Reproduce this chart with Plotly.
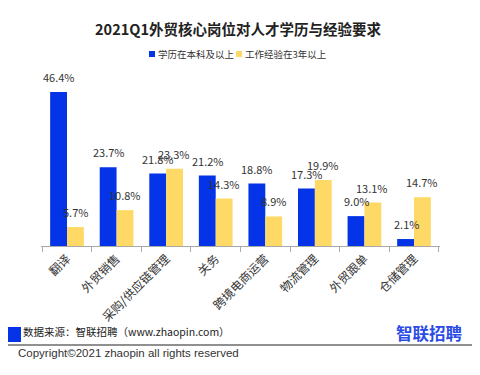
import plotly.graph_objects as go

categories = ["翻译", "外贸销售", "采购/供应链管理", "关务", "跨境电商运营", "物流管理", "外贸跟单", "仓储管理"]
edu_values = [46.4, 23.7, 21.8, 21.2, 18.8, 17.3, 9.0, 2.1]
exp_values = [5.7, 10.8, 23.3, 14.3, 8.9, 19.9, 13.1, 14.7]
series_names = ["学历在本科及以上", "工作经验在3年以上"]

BLUE = "#0433E8"
YELLOW = "#FFD966"
FONT = "Noto Sans CJK SC"

OFF = 8  # page body margin offset
W, H = 480 - OFF, 375 - OFF
# plot area in window pixels: x 41..440, y 80..246
PX0, PX1, PY0, PY1 = 41, 440, 80, 246
L, R, T, B = PX0 - OFF, W - (PX1 - OFF), PY0 - OFF, H - (PY1 - OFF)
PW, PH = PX1 - PX0, PY1 - PY0

def px_x(px):
    return (px - PX0) / PW

def px_y(py):
    return (PY1 - py) / PH

fig = go.Figure()
fig.add_trace(go.Bar(x=categories, y=edu_values, name=series_names[0],
                     marker=dict(color=BLUE, line=dict(width=0))))
fig.add_trace(go.Bar(x=categories, y=exp_values, name=series_names[1],
                     marker=dict(color=YELLOW, line=dict(width=0))))

annotations = []
for cat, v in zip(categories, edu_values):
    annotations.append(dict(x=cat, y=v, xref="x", yref="y", text=f"{v:.1f}%",
                            showarrow=False, xshift=-8, yshift=5, yanchor="bottom",
                            font=dict(size=11, color="#333333", family=FONT)))
for cat, v in zip(categories, exp_values):
    annotations.append(dict(x=cat, y=v, xref="x", yref="y", text=f"{v:.1f}%",
                            showarrow=False, xshift=8, yshift=5, yanchor="bottom",
                            font=dict(size=11, color="#333333", family=FONT)))

# legend drawn as text + small squares
annotations += [
    dict(x=px_x(156), y=px_y(54), xref="paper", yref="paper", xanchor="left", yanchor="middle",
         text=series_names[0], showarrow=False,
         font=dict(size=9.5, color="#333333", family=FONT)),
    dict(x=px_x(243), y=px_y(54), xref="paper", yref="paper", xanchor="left", yanchor="middle",
         text=series_names[1], showarrow=False,
         font=dict(size=9.5, color="#333333", family=FONT)),
]

annotations += [
    dict(x=px_x(21), y=px_y(331), xref="paper", yref="paper", xanchor="left", yanchor="middle",
         text="数据来源：智联招聘（www.zhaopin.com）", showarrow=False,
         font=dict(size=10.5, color="#222222", family=FONT)),
    dict(x=px_x(16), y=px_y(353), xref="paper", yref="paper", xanchor="left", yanchor="middle",
         text="Copyright©2021 zhaopin all rights reserved", showarrow=False,
         font=dict(size=11.5, color="#333333", family="Liberation Sans")),
    dict(x=px_x(464), y=px_y(333), xref="paper", yref="paper", xanchor="right", yanchor="middle",
         text="<b>智联招聘</b>", showarrow=False,
         font=dict(size=16.5, color="#2B4BE6", family=FONT)),
]

shapes = [
    dict(type="rect", xref="paper", yref="paper", x0=px_x(149), x1=px_x(155), y0=px_y(57), y1=px_y(51),
         fillcolor=BLUE, line=dict(width=0)),
    dict(type="rect", xref="paper", yref="paper", x0=px_x(236), x1=px_x(242), y0=px_y(57), y1=px_y(51),
         fillcolor=YELLOW, line=dict(width=0)),
    dict(type="rect", xref="paper", yref="paper", x0=px_x(7), x1=px_x(21), y0=px_y(342), y1=px_y(327),
         fillcolor=BLUE, line=dict(width=0)),
    dict(type="line", xref="paper", yref="paper", x0=px_x(3), x1=px_x(473), y0=px_y(345), y1=px_y(345),
         line=dict(color="#222222", width=1.2)),
]

fig.update_layout(
    width=W, height=H,
    margin=dict(l=L, r=R, t=T, b=B, pad=0, autoexpand=False),
    paper_bgcolor="white", plot_bgcolor="white",
    title=dict(text="<b>2021Q1外贸核心岗位对人才学历与经验要求</b>", x=px_x(238), xanchor="center",
               xref="paper", y=1 - (30 - OFF) / H, yanchor="middle",
               font=dict(size=14.5, color="#222222", family=FONT)),
    barmode="group", bargap=0.32, bargroupgap=0,
    showlegend=False,
    xaxis=dict(type="category", tickangle=-45, showline=True, linecolor="#AAAAAA", linewidth=1,
               ticks="outside", tickson="boundaries", ticklen=5, tickcolor="#AAAAAA",
               automargin=False,
               tickfont=dict(size=12, color="#333333", family=FONT), showgrid=False),
    yaxis=dict(range=[0, 50], visible=False, showgrid=False, zeroline=False, automargin=False),
    annotations=annotations,
    shapes=shapes,
)

fig.write_html("out.html")
